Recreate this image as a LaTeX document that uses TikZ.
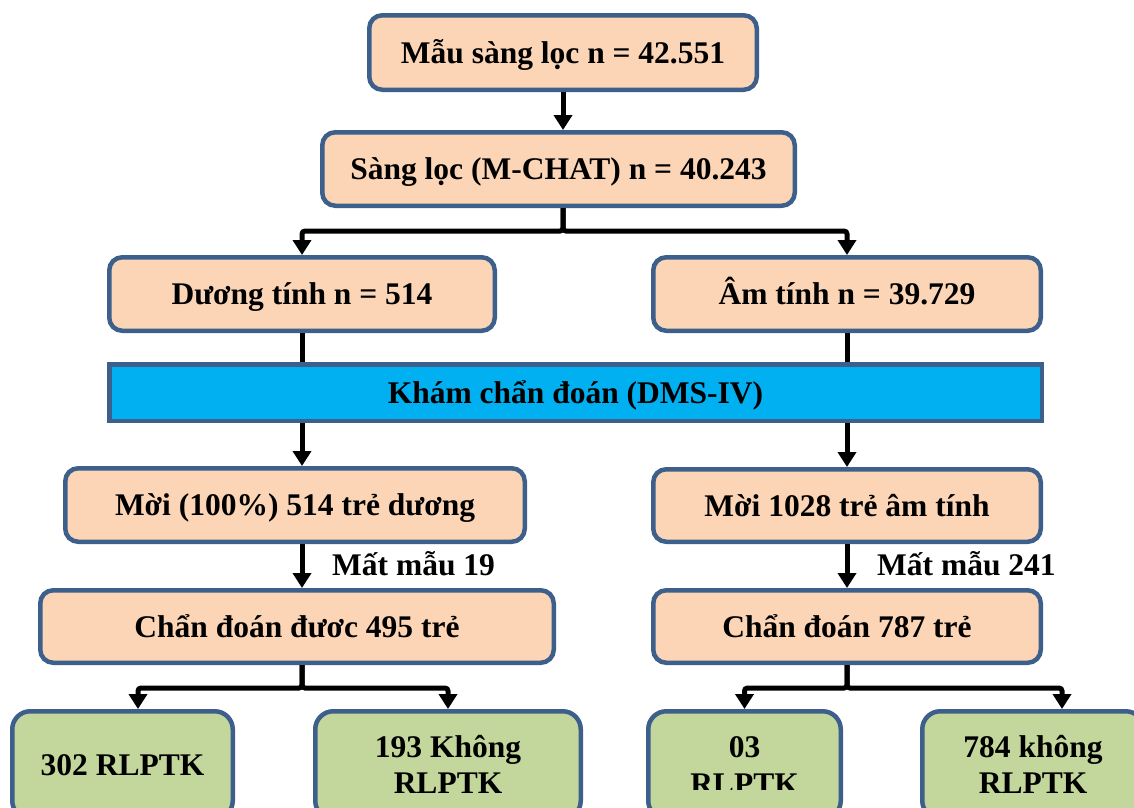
\documentclass[tikz,border=0pt]{standalone}
\usepackage{fontspec}
\setmainfont{Liberation Serif}
\usetikzlibrary{arrows.meta,calc}
\definecolor{bordc}{HTML}{3C5F8C}
\definecolor{peach}{HTML}{FBD5B5}
\definecolor{leaf}{HTML}{C3D69B}
\definecolor{barblue}{HTML}{00B0F0}
\tikzset{
  txt/.style={font=\bfseries\fontsize{31.5}{36}\selectfont},
  box/.style={txt, draw=bordc, line width=4.5pt, fill=peach, rounded corners=13pt,
    inner sep=0pt, text height=21pt, text depth=0pt},
  leafbox/.style={box, fill=leaf, rounded corners=18pt},
  barbox/.style={box, fill=barblue, rounded corners=0pt},
  conn/.style={line width=5pt, draw=black, rounded corners=3pt,
    -{Triangle[width=18pt,length=15pt]}},
  plain/.style={line width=5pt, draw=black},
  lbl/.style={txt, inner sep=0pt}
}
\begin{document}
\begin{tikzpicture}[x=1pt,y=-1pt]
\useasboundingbox (0,0) rectangle (1134,807);
\clip (0,0) rectangle (1134,807);

% boxes
\node[box, minimum width=387.5pt, minimum height=74.5pt] (top) at (563,52.5) {Mẫu sàng lọc n = 42.551};
\node[box, minimum width=472.5pt, minimum height=73.5pt] (sang) at (558.5,169) {Sàng lọc (M-CHAT) n = 40.243};
\node[box, minimum width=385.5pt, minimum height=73.5pt] (duong) at (302,294) {Dương tính n = 514};
\node[box, minimum width=387.5pt, minimum height=73.5pt] (am) at (847,294) {Âm tính n = 39.729};
\node[barbox, minimum width=932.5pt, minimum height=56.5pt] (bar) at (575.5,392.5) {Khám chẩn đoán (DMS-IV)};
\node[box, minimum width=459.5pt, minimum height=73.5pt] (moi1) at (295,505) {Mời (100\%) 514 trẻ dương};
\node[box, minimum width=387.5pt, minimum height=72.5pt] (moi2) at (847,505.5) {Mời 1028 trẻ âm tính};
\node[box, minimum width=513.5pt, minimum height=72.5pt] (chan1) at (297,626.5) {Chẩn đoán đươc 495 trẻ};
\node[box, minimum width=387.5pt, minimum height=72.5pt] (chan2) at (847,626.5) {Chẩn đoán 787 trẻ};

\node[leafbox, minimum width=220.5pt, minimum height=107.5pt] (r1) at (122.5,765) {302 RLPTK};
\node[leafbox, minimum width=265.5pt, minimum height=107.5pt] (r2) at (448,765) {};
\node[leafbox, minimum width=192.5pt, minimum height=107.5pt] (r3) at (744.5,765) {};
\node[leafbox, minimum width=221.5pt, minimum height=107.5pt] (r4) at (1033,765) {};

\node[lbl, anchor=base] (r2a) at (448,757) {193 Không};
\node[lbl, anchor=base] (r2b) at (448,793) {RLPTK};
\node[lbl, anchor=base] (r3a) at (744.5,757) {03};
\begin{scope}
\clip (646,700) rectangle (843,789);
\node[lbl, anchor=base] (r3b) at (744.5,794) {RLPTK};
\end{scope}
\node[lbl, anchor=base] (r4a) at (1033,757) {784 không};
\node[lbl, anchor=base] (r4b) at (1033,793) {RLPTK};

\node[lbl, anchor=base west] (m19) at (332,575) {Mất mẫu 19};
\node[lbl, anchor=base west] (m241) at (877,575) {Mất mẫu 241};

% connectors
\draw[conn] (top.south) -- (top.south |- sang.north);
\draw[conn] (top.south |- sang.south) -- ++(0,23) -| (duong.north);
\draw[conn] (top.south |- sang.south) -- ++(0,23) -| (am.north);

\draw[plain] (duong.south) -- (duong.south |- bar.north);
\draw[plain] (am.south) -- (am.south |- bar.north);
\draw[conn] (duong.south |- bar.south) -- (duong.south |- moi1.north);
\draw[conn] (am.south |- bar.south) -- (am.south |- moi2.north);
\draw[conn] (duong.south |- moi1.south) -- (duong.south |- chan1.north);
\draw[conn] (am.south |- moi2.south) -- (am.south |- chan2.north);

\draw[conn] (duong.south |- chan1.south) -- ++(0,23) -| ($(r1.north)+(15.5,0)$);
\draw[conn] (duong.south |- chan1.south) -- ++(0,23) -| (r2.north);
\draw[conn] (am.south |- chan2.south) -- ++(0,23) -| (r3.north);
\draw[conn] (am.south |- chan2.south) -- ++(0,23) -| ($(r4.north)+(29,0)$);
\end{tikzpicture}
\end{document}
